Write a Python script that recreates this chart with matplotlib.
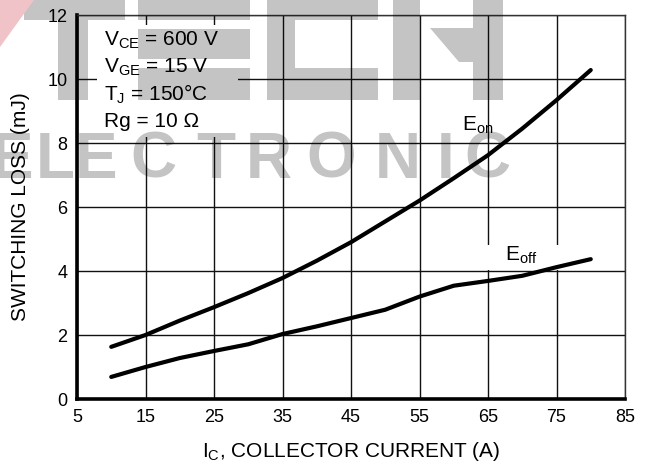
import matplotlib
matplotlib.use("Agg")
import matplotlib.pyplot as plt
from matplotlib.patches import Polygon, Rectangle

plt.rcParams['font.family'] = ['Liberation Sans', 'DejaVu Sans']
plt.rcParams['mathtext.fontset'] = 'custom'
plt.rcParams['mathtext.rm'] = 'Liberation Sans'
plt.rcParams['mathtext.it'] = 'Liberation Sans'

# ---- data ----
ic = [10, 15, 20, 25, 30, 35, 40, 45, 50, 55, 60, 65, 70, 75, 80]
e_on = [1.63, 2.00, 2.45, 2.87, 3.31, 3.78, 4.32, 4.90, 5.55, 6.20, 6.90, 7.62, 8.45, 9.34, 10.28]
e_off = [0.69, 1.00, 1.28, 1.50, 1.71, 2.03, 2.27, 2.53, 2.79, 3.20, 3.54, 3.69, 3.85, 4.12, 4.37]
x_ticks = [5, 15, 25, 35, 45, 55, 65, 75, 85]
y_ticks = [0, 2, 4, 6, 8, 10, 12]
conditions = [r'$\mathregular{V_{CE}}$ = 600 V', r'$\mathregular{V_{GE}}$ = 15 V',
              r'$\mathregular{T_{J}}$ = 150°C', 'Rg = 10 Ω']
x_label = r'$\mathregular{I_{C}}$, COLLECTOR CURRENT (A)'
y_label = 'SWITCHING LOSS (mJ)'
watermark_word = 'ELECTRONIC'

W, H = 652, 468
fig = plt.figure(figsize=(W / 100, H / 100), dpi=100)
ax = fig.add_axes([77 / W, 1 - 399 / H, (625 - 77) / W, (399 - 15) / H])

ax.set_xlim(5, 85)
ax.set_ylim(0, 12)
ax.set_xticks(x_ticks)
ax.set_yticks(y_ticks)
ax.tick_params(length=0, labelsize=13, pad=7)
ax.grid(True, color='#111111', linewidth=1.0, zorder=0.5)
ax.set_axisbelow(True)

for s in ['left', 'bottom']:
    ax.spines[s].set_linewidth(2.6)
    ax.spines[s].set_color('black')
for s in ['top', 'right']:
    ax.spines[s].set_linewidth(1.0)
    ax.spines[s].set_color('#333333')

# white gaps in grid behind annotations
ax.add_patch(Rectangle((7.9, 8.19), 20.6, 3.5, facecolor='white', edgecolor='none', zorder=1))
ax.add_patch(Rectangle((64.3, 4.04), 11.4, 0.78, facecolor='white', edgecolor='none', zorder=1))

ax.plot(ic, e_on, color='black', linewidth=3.0, solid_capstyle='round', solid_joinstyle='round', zorder=3)
ax.plot(ic, e_off, color='black', linewidth=3.0, solid_capstyle='round', solid_joinstyle='round', zorder=3)

ax.text(61.2, 8.56, r'$\mathregular{E_{on}}$', fontsize=15, va='center', ha='left', zorder=4)
ax.text(67.5, 4.50, r'$\mathregular{E_{off}}$', fontsize=15, va='center', ha='left', zorder=4)

for i, t in enumerate(conditions):
    ax.text(8.9, 11.2 - i * 0.84, t, fontsize=15, va='center', ha='left', zorder=4)

ax.set_xlabel(x_label, fontsize=15, labelpad=10)
ax.set_ylabel(y_label, fontsize=15, labelpad=12)

# ---- watermark (logo drawn as blocks, multiply-like via alpha) ----
def px_poly(pts):
    return [(x / W, 1 - y / H) for x, y in pts]

def px_rect(x0, y0, x1, y1):
    return px_poly([(x0, y0), (x1, y0), (x1, y1), (x0, y1)])

wm_kw = dict(closed=True, transform=fig.transFigure, facecolor='black', alpha=0.23,
             edgecolor='none', zorder=10)
logo_shapes = [
    px_rect(24, 0, 125, 20), px_rect(58, 20, 88, 100),               # T
    px_rect(138, 0, 250, 20), px_rect(138, 29, 250, 59), px_rect(138, 68, 250, 100),  # E
    px_rect(267, 0, 378, 20), px_rect(267, 20, 295, 68), px_rect(267, 68, 378, 100),  # C
    px_rect(393, 0, 420, 100), px_rect(473, 0, 503, 100),            # H stems
    px_poly([(430, 28), (473, 28), (473, 62), (459, 62)]),           # H bar
]
for pts in logo_shapes:
    fig.patches.append(Polygon(pts, **wm_kw))

for ch, cx in zip(watermark_word, [12, 55, 96, 153, 216, 269, 331, 398, 446, 487]):
    fig.text(cx / W, 1 - 178 / H, ch, fontsize=46, fontweight='bold',
             family=['Liberation Sans Narrow', 'Liberation Sans'],
             ha='center', va='baseline', color='black', alpha=0.23, zorder=10)
fig.patches.append(Polygon(px_poly([(0, 0), (34, 0), (0, 47)]), closed=True,
                           transform=fig.transFigure, facecolor='#efc3c8', edgecolor='none', zorder=10))

fig.savefig('out.png', dpi=100)
